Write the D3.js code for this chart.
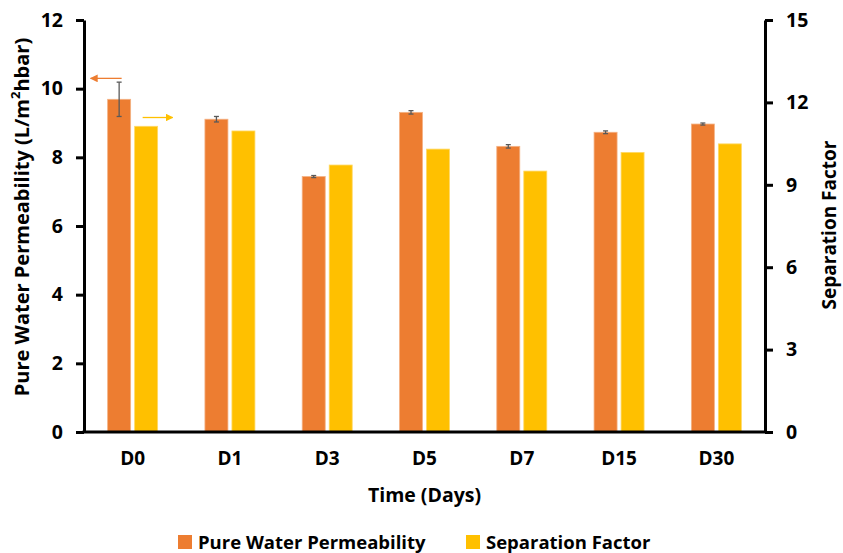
<!DOCTYPE html>
<html><head><meta charset="utf-8">
<script src="https://cdn.jsdelivr.net/npm/d3@7"></script>
<style>body{margin:0;background:#fff}svg{display:block}text{font-family:"Open Sans",sans-serif}</style>
</head><body><svg id="c" width="843" height="553"></svg>
<script>
const categories = ["D0","D1","D3","D5","D7","D15","D30"];
const permeability = [9.69, 9.11, 7.44, 9.31, 8.32, 8.73, 8.97];
const permeabilityErr = [0.5, 0.08, 0.03, 0.05, 0.05, 0.04, 0.03];
const separationFactor = [11.13, 10.96, 9.72, 10.30, 9.50, 10.18, 10.49];
const leftTicks = [0,2,4,6,8,10,12];
const rightTicks = [0,3,6,9,12,15];
const seriesNames = ["Pure Water Permeability","Separation Factor"];
const colors = ["#ED7D31","#FFC000"];

const svg = d3.select("#c");
const m = {l:84, r:765, t:20, b:432};
const x = d3.scaleBand().domain(categories).range([m.l, m.r]);
const yL = d3.scaleLinear().domain([0,12]).range([m.b, m.t]);
const yR = d3.scaleLinear().domain([0,15]).range([m.b, m.t]);
const bw = 23, gap = 4;

const g = svg.append("g");
categories.forEach((c,i)=>{
  const cx = x(c) + x.bandwidth()/2;
  g.append("rect").attr("x", cx - gap/2 - bw).attr("y", yL(permeability[i]))
    .attr("width", bw).attr("height", yL(0)-yL(permeability[i]))
    .attr("fill", colors[0]).attr("stroke","#F4B183").attr("stroke-width",0.8);
  g.append("rect").attr("x", cx + gap/2).attr("y", yR(separationFactor[i]))
    .attr("width", bw).attr("height", yR(0)-yR(separationFactor[i]))
    .attr("fill", colors[1]).attr("stroke","#FFD966").attr("stroke-width",0.8);
  const ex = cx - gap/2 - bw/2;
  const e = g.append("g").attr("stroke","#595959").attr("stroke-width",1.3);
  e.append("line").attr("x1",ex).attr("x2",ex).attr("y1",yL(permeability[i]+permeabilityErr[i])).attr("y2",yL(permeability[i]-permeabilityErr[i]));
  [1,-1].forEach(s=>e.append("line").attr("x1",ex-2.5).attr("x2",ex+2.5)
    .attr("y1",yL(permeability[i]+s*permeabilityErr[i])).attr("y2",yL(permeability[i]+s*permeabilityErr[i])));
});

function styleAxis(sel){
  sel.select(".domain").attr("stroke","#000").attr("stroke-width",3);
  sel.selectAll(".tick line").attr("stroke","#000").attr("stroke-width",3);
  sel.selectAll(".tick text").attr("font-size",19.5).attr("font-weight","bold").attr("fill","#000");
}
const axL = svg.append("g").attr("transform",`translate(${m.l},0)`)
  .call(d3.axisLeft(yL).tickValues(leftTicks).tickSize(8).tickSizeOuter(0).tickPadding(13));
styleAxis(axL);
const axR = svg.append("g").attr("transform",`translate(${m.r},0)`)
  .call(d3.axisRight(yR).tickValues(rightTicks).tickSize(8).tickSizeOuter(0).tickPadding(13));
styleAxis(axR);
const axB = svg.append("g").attr("transform",`translate(0,${m.b})`)
  .call(d3.axisBottom(x).tickSize(0).tickPadding(20));
styleAxis(axB);
axB.select(".domain").attr("d",`M${m.l-1.5},0H${m.r+1.5}`);
axB.selectAll(".tick text").attr("font-size",19);

svg.append("text").attr("x",(m.l+m.r)/2).attr("y",502).attr("text-anchor","middle")
  .attr("font-size",19.5).attr("font-weight","bold").text("Time (Days)");
svg.append("text").attr("transform",`translate(29,217) rotate(-90)`).attr("text-anchor","middle")
  .attr("font-size",20).attr("font-weight","bold")
  .html('Pure Water Permeability (L/m<tspan baseline-shift="super" font-size="13">2</tspan>hbar)');
svg.append("text").attr("transform",`translate(836,225) rotate(-90)`).attr("text-anchor","middle")
  .attr("font-size",19).attr("font-weight","bold").text("Separation Factor");

const defs = svg.append("defs");
colors.forEach((c,i)=>{
  defs.append("marker").attr("id","ah"+i).attr("viewBox","0 0 10 10").attr("refX",9).attr("refY",5)
    .attr("markerWidth",6).attr("markerHeight",6).attr("orient","auto")
    .append("path").attr("d","M0,0L10,5L0,10Z").attr("fill",c);
});
const c0 = x("D0") + x.bandwidth()/2;
svg.append("line").attr("x1",c0-11).attr("x2",c0-42).attr("y1",yL(10.3)).attr("y2",yL(10.3))
  .attr("stroke",colors[0]).attr("stroke-width",1.3).attr("marker-end","url(#ah0)");
svg.append("line").attr("x1",c0+10).attr("x2",c0+40).attr("y1",yR(11.45)).attr("y2",yR(11.45))
  .attr("stroke",colors[1]).attr("stroke-width",1.3).attr("marker-end","url(#ah1)");

const lg = svg.append("g");
const lx = [178, 466];
seriesNames.forEach((n,i)=>{
  lg.append("rect").attr("x",lx[i]).attr("y",535).attr("width",14).attr("height",14).attr("fill",colors[i]);
  lg.append("text").attr("x",lx[i]+20).attr("y",549).attr("font-size",18.5).attr("font-weight","bold").text(n);
});
</script></body></html>
